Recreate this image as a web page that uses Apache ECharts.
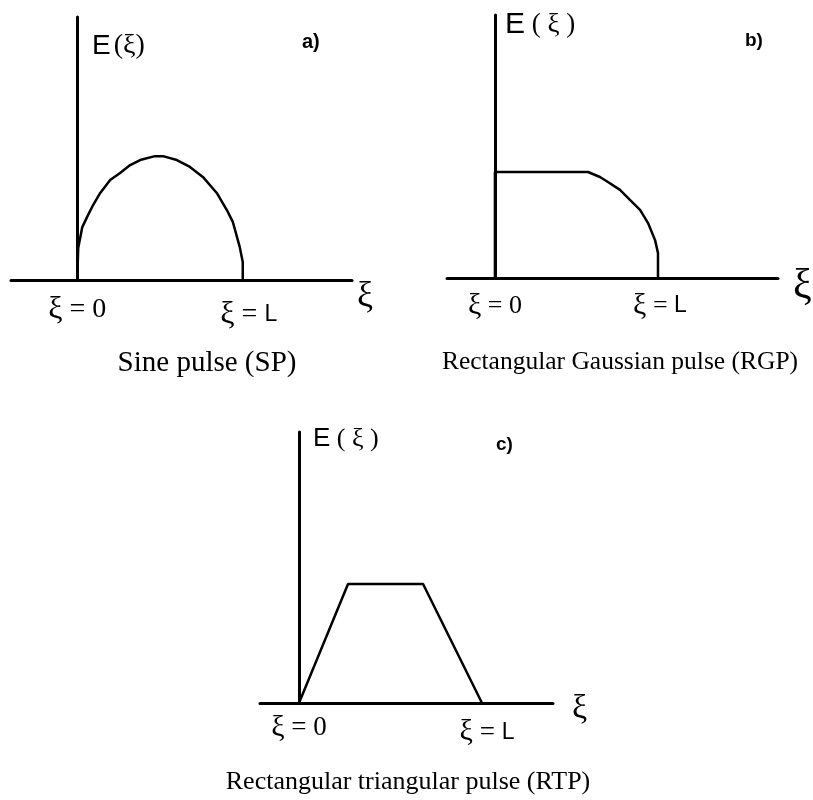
<!DOCTYPE html>
<html>
<head>
<meta charset="utf-8">
<script src="https://cdn.jsdelivr.net/npm/echarts@6/dist/echarts.min.js"></script>
<style>html,body{margin:0;padding:0;background:#fff}#c{width:813px;height:800px}</style>
</head>
<body>
<div id="c"></div>
<script>
// ---- data ----
const sineXi = [0, 0.006, 0.03, 0.06, 0.096, 0.139, 0.199, 0.259, 0.32, 0.38, 0.47, 0.518, 0.602, 0.681, 0.759, 0.843, 0.904, 0.94, 0.982, 1, 1];
const sineE  = [0, 0.122, 0.20, 0.24, 0.285, 0.331, 0.38, 0.407, 0.437, 0.456, 0.471, 0.471, 0.456, 0.43, 0.392, 0.331, 0.266, 0.221, 0.125, 0.068, 0];
const rgpXi = [0, 0, 0.571, 0.644, 0.693, 0.767, 0.828, 0.89, 0.939, 0.982, 1, 1];
const rgpE  = [0, 0.403, 0.403, 0.384, 0.365, 0.335, 0.297, 0.259, 0.209, 0.144, 0.095, 0];
const rtpXi = [0, 0.268, 0.678, 1];
const rtpE  = [0, 0.439, 0.439, 0];
const tickValues = [0, 1];
const tickLabels = ['ξ = 0', 'ξ = L'];
const captions = ['Sine pulse (SP)', 'Rectangular Gaussian pulse (RGP)', 'Rectangular triangular pulse (RTP)'];
const panelLetters = ['a)', 'b)', 'c)'];
const xName = 'ξ';

const SERIF = "'Liberation Serif','Times New Roman',serif";
const SANS = "'Liberation Sans',Arial,sans-serif";

// layout per panel (not data)
const panels = [
  {grid:{left:11, top:17, width:341, height:263}, xmin:-0.4, xmax:1.66, margin:15, gfs:32, fs:28, lfs:23, lPad:[10,0,0,12], nameGap:5, nameFs:36, nameLH:34},
  {grid:{left:447, top:15, width:331, height:263}, xmin:-0.294, xmax:1.736, margin:13, gfs:30, fs:26, lfs:23, lPad:[0,0,0,4], nameGap:15, nameFs:42, nameLH:18},
  {grid:{left:260, top:432, width:293, height:271}, xmin:-0.213, xmax:1.388, margin:10, gfs:30, fs:27, lfs:23, lPad:[9,0,0,10], nameGap:19, nameFs:34, nameLH:12}
];
const seriesData = [
  sineXi.map((x,i)=>[x, sineE[i]]),
  rgpXi.map((x,i)=>[x, rgpE[i]]),
  rtpXi.map((x,i)=>[x, rtpE[i]])
];

const chart = echarts.init(document.getElementById('c'), null, {renderer:'canvas'});

const axisLine = {show:true, onZero:true, lineStyle:{color:'#000', width:3}};
const option = {
  backgroundColor:'#fff',
  animation:false,
  grid: panels.map(p=>Object.assign({containLabel:false}, p.grid)),
  xAxis: panels.map((p,i)=>({
    type:'value', gridIndex:i, min:p.xmin, max:p.xmax,
    axisLine:axisLine, axisTick:{show:false}, splitLine:{show:false},
    name:xName, nameLocation:'end', nameGap:p.nameGap,
    nameTextStyle:{fontFamily:SERIF, fontSize:p.nameFs, color:'#000', align:'left', verticalAlign:'top', lineHeight:p.nameLH},
    axisLabel:{
      customValues:tickValues, margin:p.margin, color:'#000', fontFamily:SERIF, fontSize:p.fs,
      formatter:function(v){
        const k = tickValues.indexOf(v);
        const txt = tickLabels[k] || '';
        if (k === 0) { return '{g|' + txt.slice(0,1) + '}{t|' + txt.slice(1) + '}'; }
        return '{g2|' + txt.slice(0,1) + '}{t2|' + txt.slice(1, txt.length-1) + '}{l|' + txt.slice(-1) + '}';
      },
      rich:{
        g:{fontFamily:SERIF, fontSize:p.gfs, color:'#000', lineHeight:30},
        t:{fontFamily:SERIF, fontSize:p.fs, color:'#000', lineHeight:30},
        g2:{fontFamily:SERIF, fontSize:p.gfs, color:'#000', lineHeight:30, padding:p.lPad},
        t2:{fontFamily:SERIF, fontSize:p.fs, color:'#000', lineHeight:30, padding:[p.lPad[0],0,0,0]},
        l:{fontFamily:SANS, fontSize:p.lfs, color:'#000', lineHeight:30, padding:[p.lPad[0],0,0,0]}
      }
    }
  })),
  yAxis: panels.map((p,i)=>({
    type:'value', gridIndex:i, min:0, max:1,
    axisLine:axisLine, axisTick:{show:false}, splitLine:{show:false}, axisLabel:{show:false}
  })),
  series: seriesData.map((d,i)=>({
    type:'line', xAxisIndex:i, yAxisIndex:i, data:d, showSymbol:false, symbol:'none',
    lineStyle:{color:'#000', width:2.5}, smooth:false, z:3
  })),
  graphic: [
    // E(ξ) labels
    {type:'text', left:92, top:32, style:{text:'{e|E}{p|(ξ)}', rich:{e:{fontFamily:SANS, fontSize:28, fill:'#000'}, p:{fontFamily:SERIF, fontSize:28, fill:'#000', padding:[0,0,0,3]}}}},
    {type:'text', left:505, top:10, style:{text:'{e|E}{p| ( ξ )}', rich:{e:{fontFamily:SANS, fontSize:30, fill:'#000'}, p:{fontFamily:SERIF, fontSize:27, fill:'#000'}}}},
    {type:'text', left:313, top:426, style:{text:'{e|E}{p| ( ξ )}', rich:{e:{fontFamily:SANS, fontSize:26, fill:'#000'}, p:{fontFamily:SERIF, fontSize:26, fill:'#000'}}}},
    // panel letters
    {type:'text', left:302, top:32, style:{text:panelLetters[0], fontFamily:SANS, fontWeight:'bold', fontSize:20, fill:'#000'}},
    {type:'text', left:745, top:31, style:{text:panelLetters[1], fontFamily:SANS, fontWeight:'bold', fontSize:19, fill:'#000'}},
    {type:'text', left:496, top:435, style:{text:panelLetters[2], fontFamily:SANS, fontWeight:'bold', fontSize:19, fill:'#000'}},
    // captions
    {type:'text', x:207, y:363, style:{text:captions[0], align:'center', verticalAlign:'middle', fontFamily:SERIF, fontSize:29, fill:'#000'}},
    {type:'text', x:620, y:362, style:{text:captions[1], align:'center', verticalAlign:'middle', fontFamily:SERIF, fontSize:25.5, fill:'#000'}},
    {type:'text', x:408, y:782, style:{text:captions[2], align:'center', verticalAlign:'middle', fontFamily:SERIF, fontSize:26, fill:'#000'}}
  ]
};
chart.setOption(option);
</script>
</body>
</html>
